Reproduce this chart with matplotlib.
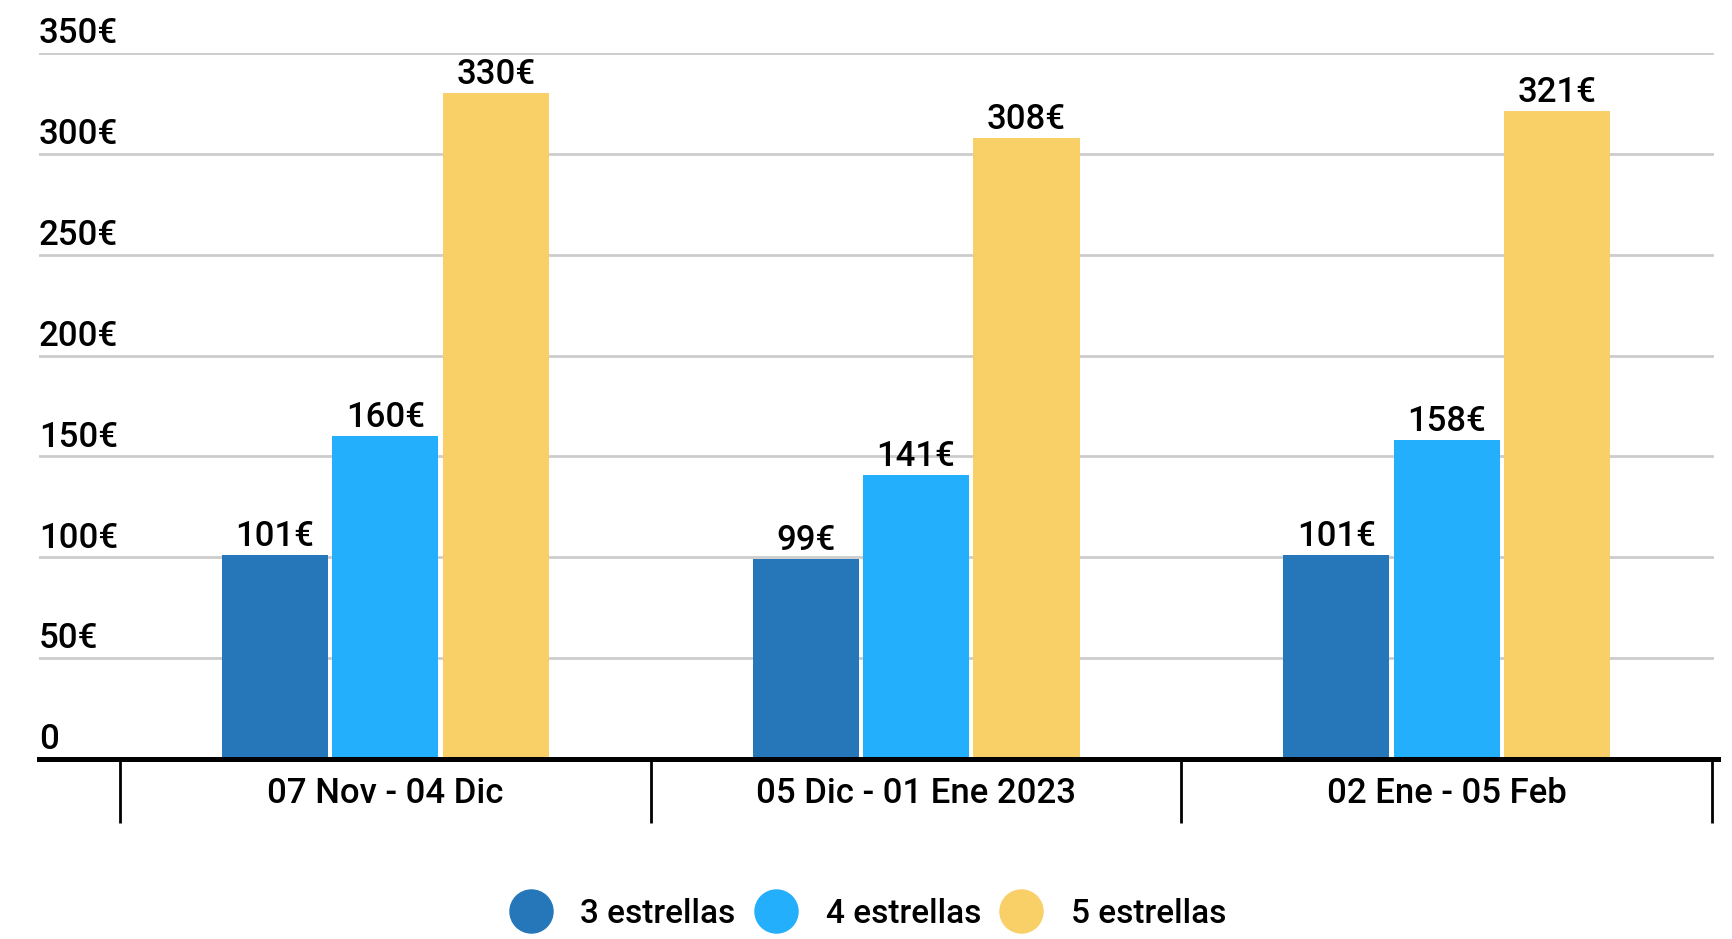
import numpy as np
import matplotlib.pyplot as plt
from matplotlib.lines import Line2D

periodos = ['07 Nov - 04 Dic', '05 Dic - 01 Ene 2023', '02 Ene - 05 Feb']
series = ['3 estrellas', '4 estrellas', '5 estrellas']
tres = [101, 99, 101]
cuatro = [160, 141, 158]
cinco = [330, 308, 321]
colores = ['#2577B9', '#23AFFB', '#F8D067']
yticks = [0, 50, 100, 150, 200, 250, 300, 350]

plt.rcParams['font.family'] = ['Roboto', 'DejaVu Sans']
fs = 25

fig = plt.figure(figsize=(17.32, 9.39), dpi=100)
ax = fig.add_axes([39 / 1732, 1 - 759 / 939, (1718 - 39) / 1732, (759 - 53) / 939])

x = np.arange(len(periodos))
paso = 0.208
ancho = 0.2
for i, (vals, col) in enumerate(zip([tres, cuatro, cinco], colores)):
    pos = x + (i - 1) * paso
    ax.bar(pos, vals, width=ancho, color=col, zorder=3)
    for p, v in zip(pos, vals):
        ax.annotate(f'{v}€', (p, v), xytext=(0, 6.5), textcoords='offset points',
                    ha='center', va='baseline', fontsize=fs, fontweight='medium',
                    annotation_clip=False)

ax.set_xlim(-0.6525, 2.511)
ax.set_ylim(0, 350)

# grid lines
for t in yticks[1:]:
    ax.axhline(t, xmin=0, xmax=(2.5 + 0.6525) / (2.511 + 0.6525), color='#cccccc', lw=2, zorder=1)

# y labels sitting above grid lines
ax.set_yticks([])
for t in yticks:
    lab = '0' if t == 0 else f'{t}€'
    ax.annotate(lab, (0, t), xycoords=('axes fraction', 'data'), xytext=(0, 7),
                textcoords='offset points', ha='left', va='baseline', fontsize=fs,
                fontweight='medium', annotation_clip=False)

for s in ['top', 'right', 'left']:
    ax.spines[s].set_visible(False)
ax.spines['bottom'].set_linewidth(3.6)
ax.spines['bottom'].set_zorder(4)

ax.set_xticks(x)
ax.set_xticklabels(periodos, fontsize=fs, fontweight='medium')
ax.tick_params(axis='x', which='major', length=0, pad=13)
ax.set_xticks([-0.5, 0.5, 1.5, 2.5], minor=True)
ax.tick_params(axis='x', which='minor', length=46, width=2, color='black')

handles = [Line2D([], [], marker='o', ls='none', markersize=31, color=c) for c in colores]
fig.legend(handles, series, loc='center', bbox_to_anchor=(0.5, 1 - 914 / 939), ncol=3,
           frameon=False, prop={'size': 24, 'weight': 'medium'},
           handletextpad=0.75, columnspacing=0.45, handlelength=1.5)

fig.savefig('out.png', dpi=100)
